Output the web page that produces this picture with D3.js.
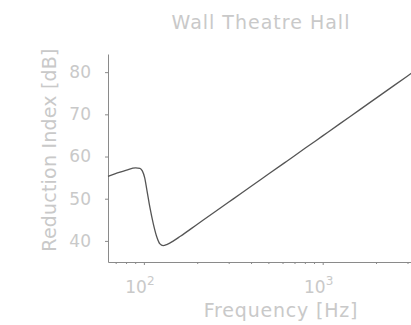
<!DOCTYPE html>
<html>
<head>
<meta charset="utf-8">
<script src="https://cdn.jsdelivr.net/npm/d3@7"></script>
<style>
  body { margin: 0; background: #fff; }
  text { font-family: "DejaVu Sans", sans-serif; fill: #c9c9c9; }
  .axis path, .axis line { stroke: #8a8a8a; }
</style>
</head>
<body>
<svg id="chart"></svg>
<script>
// frequency [Hz] and reduction index [dB]
var freqs = [63, 70, 80, 90, 95, 98, 101, 104, 108, 113, 118, 123, 128, 135, 145,
             160, 200, 250, 315, 400, 500, 630, 800, 1000, 1250, 1600, 2000, 2500, 3150];
var values = [55.3, 56.0, 56.8, 57.3, 57.2, 56.6, 55.0, 52.0, 48.0, 44.0, 41.0, 39.3, 38.9, 39.2, 39.9,
              41.1, 44.0, 46.9, 49.9, 53.0, 55.9, 58.9, 62.0, 64.9, 67.8, 71.0, 73.9, 76.8, 79.8];
var yTicks = [40, 50, 60, 70, 80];
var xMajor = [100, 1000];
var xMajorLabels = [["10", "2"], ["10", "3"]];
var xMinor = [70, 80, 90, 200, 300, 400, 500, 600, 700, 800, 900, 2000, 3000];

var width = 411, height = 325;
var plotLeft = 108, plotRight = 411.8, plotTop = 54, plotBottom = 262;

var svg = d3.select("#chart").attr("width", width).attr("height", height);

var x = d3.scaleLog().domain([63, 3150]).range([plotLeft, plotRight]);
var y = d3.scaleLinear().domain([35, 84.3]).range([plotBottom, plotTop]);

// axes
var gy = svg.append("g").attr("class", "axis")
    .attr("transform", "translate(" + plotLeft + ",0)")
    .call(d3.axisLeft(y).tickValues(yTicks).tickSize(3).tickSizeOuter(0).tickPadding(14));
gy.selectAll("text").style("font-size", "17px").attr("fill", "#c9c9c9")
    .attr("font-family", null);

var gx = svg.append("g").attr("class", "axis")
    .attr("transform", "translate(0," + plotBottom + ")")
    .call(d3.axisBottom(x).tickValues(xMajor).tickSize(3).tickSizeOuter(0).tickFormat(""));
gx.selectAll(".tick text").remove();

// minor ticks
svg.append("g").selectAll("line")
    .data(xMinor)
    .enter().append("line")
    .attr("x1", function(d){ return x(d); })
    .attr("x2", function(d){ return x(d); })
    .attr("y1", plotBottom).attr("y2", plotBottom + 2)
    .attr("stroke", "#8a8a8a");

// major tick labels with superscripts
var lab = svg.append("g").selectAll("text")
    .data(xMajor)
    .enter().append("text")
    .attr("x", function(d){ return x(d) - 4; })
    .attr("y", 292.5)
    .attr("text-anchor", "middle")
    .style("font-size", "17px");
lab.append("tspan").text(function(d, i){ return xMajorLabels[i][0]; });
lab.append("tspan").attr("dy", -8).style("font-size", "12px")
    .text(function(d, i){ return xMajorLabels[i][1]; });

// curve
var pts = freqs.map(function(f, i){ return [x(f), y(values[i])]; });
svg.append("path")
    .attr("d", d3.line().curve(d3.curveMonotoneX)(pts))
    .attr("fill", "none")
    .attr("stroke", "#555")
    .attr("stroke-width", 1.3);

// titles
svg.append("text").attr("x", 261).attr("y", 28.5).attr("text-anchor", "middle")
    .style("font-size", "19px").style("letter-spacing", "1px").text("Wall Theatre Hall");
svg.append("text").attr("x", 281).attr("y", 317).attr("text-anchor", "middle")
    .style("font-size", "19px").style("letter-spacing", "0.8px").text("Frequency [Hz]");
svg.append("text").attr("transform", "translate(56,150) rotate(-90)").attr("text-anchor", "middle")
    .style("font-size", "19px").style("letter-spacing", "0.2px").text("Reduction Index [dB]");
</script>
</body>
</html>
